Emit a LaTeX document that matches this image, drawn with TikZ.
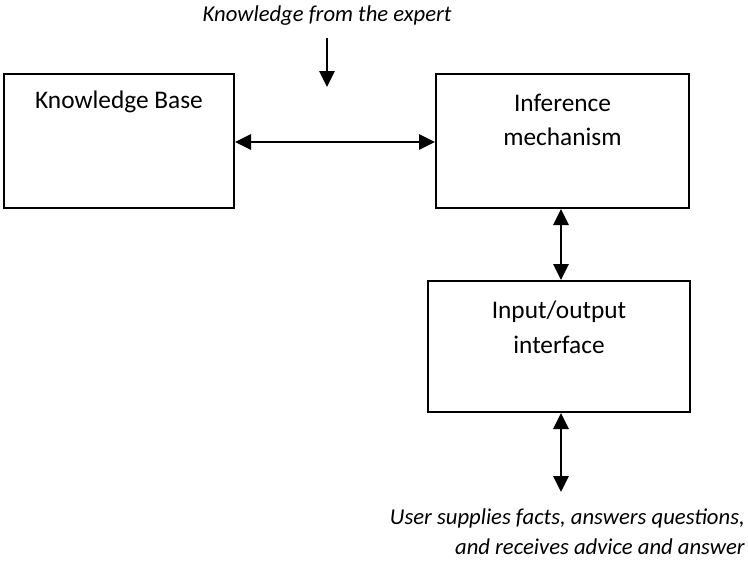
\documentclass[tikz,border=0pt]{standalone}
\usepackage{fontspec}
\setmainfont{Carlito}
\usetikzlibrary{arrows.meta}
\begin{document}
\begin{tikzpicture}[x=0.75pt,y=-0.75pt,
  block/.style={draw,line width=1.5pt,inner sep=0pt},
  boxtext/.style={font=\fontsize{19}{26}\selectfont,align=center,inner sep=0pt},
  note/.style={font=\fontsize{17}{22.5}\selectfont\itshape,inner sep=0pt},
  tip/.style={Triangle[length=12pt,width=11.5pt]},
  link/.style={line width=1.6pt,{Triangle[length=12pt,width=11.5pt]}-{Triangle[length=12pt,width=11.5pt]}},
  feed/.style={line width=1.6pt,-{Triangle[length=12pt,width=11.5pt]}}]
\useasboundingbox (0,0) rectangle (748,562);

% boxes
\node[block,minimum width=230*0.75pt,minimum height=134*0.75pt] (kb) at (119,141) {};
\node[block,minimum width=253*0.75pt,minimum height=134*0.75pt] (inf) at (562.5,141) {};
\node[block,minimum width=262*0.75pt,minimum height=131*0.75pt] (io) at (559,346.5) {};

% box captions
\node[boxtext] (kbt) at (119,102) {Knowledge Base};
\node[boxtext] (inft) at (562.5,120) {Inference\\mechanism};
\node[boxtext] (iot) at (559,327) {Input/output\\interface};

% outside notes
\node[note] (expert) at (327,16) {Knowledge from the expert};
\node[note,anchor=east,align=right] (user) at (745,532) {User supplies facts, answers questions,\\and receives advice and answer};

% connectors
\coordinate (ein) at (327,38);
\coordinate (eout) at (327,87);
\coordinate (uend) at (559,492);
\draw[feed] (ein) -- (eout);
\draw[link] (kb.east |- 0,142) -- (inf.west |- 0,142);
\draw[link] (inf.south -| 561,0) -- (io.north -| 561,0);
\draw[link] (io.south -| 561,0) -- (uend -| 561,0);
\end{tikzpicture}
\end{document}
